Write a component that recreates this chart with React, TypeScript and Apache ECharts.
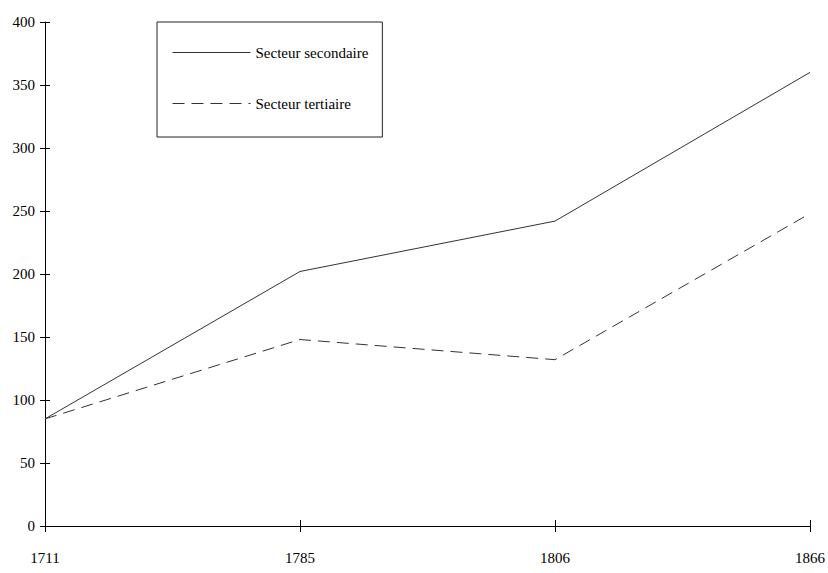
import React, { useEffect, useRef } from "react";
import * as echarts from "echarts";

const years = ["1711", "1785", "1806", "1866"];
const secondaire = [85, 202, 242, 360];
const tertiaire = [85, 148, 132, 248];
const seriesNames = ["Secteur secondaire", "Secteur tertiaire"];

const FONT = "Liberation Serif";

export default function App() {
  const ref = useRef<HTMLDivElement>(null);
  useEffect(() => {
    if (!ref.current) return;
    const chart = echarts.init(ref.current, null, { renderer: "svg" });
    const axisText = { color: "#000", fontFamily: FONT, fontSize: 15 };
    chart.setOption({
      animation: false,
      backgroundColor: "#fff",
      grid: { left: 45, right: 18, top: 22, bottom: 47 },
      legend: {
        left: 157,
        top: 22,
        orient: "vertical",
        borderColor: "#222",
        borderWidth: 1,
        borderRadius: 0,
        padding: [23, 14, 26, 15],
        itemWidth: 78,
        itemHeight: 14,
        itemGap: 36,
        itemStyle: { opacity: 0 },
        lineStyle: { width: 1 },
        textStyle: { color: "#000", fontFamily: FONT, fontSize: 15 },
        data: seriesNames,
      },
      xAxis: [
        {
          type: "category",
          data: years,
          boundaryGap: false,
          axisLine: { lineStyle: { color: "#000", width: 1 } },
          axisTick: { show: true, length: 6, alignWithLabel: true, lineStyle: { color: "#000" } },
          axisLabel: { ...axisText, margin: 24 },
          splitLine: { show: false },
        },
        {
          type: "category",
          data: years,
          boundaryGap: false,
          position: "bottom",
          axisLine: { show: false },
          axisTick: { show: true, inside: true, length: 6, lineStyle: { color: "#000" } },
          axisLabel: { show: false },
          splitLine: { show: false },
        },
      ],
      yAxis: [
        {
          type: "value",
          min: 0,
          max: 400,
          interval: 50,
          axisLine: { show: true, lineStyle: { color: "#000", width: 1 } },
          axisTick: { show: true, length: 5, lineStyle: { color: "#000" } },
          axisLabel: { ...axisText, margin: 10 },
          splitLine: { show: false },
        },
        {
          type: "value",
          min: 0,
          max: 400,
          interval: 50,
          position: "left",
          axisLine: { show: false },
          axisTick: { show: true, inside: true, length: 5, lineStyle: { color: "#000" } },
          axisLabel: { show: false },
          splitLine: { show: false },
        },
      ],
      series: [
        {
          name: seriesNames[0],
          type: "line",
          data: secondaire,
          symbol: "none",
          lineStyle: { color: "#333", width: 1, type: "solid" },
          itemStyle: { color: "#333" },
        },
        {
          name: seriesNames[1],
          type: "line",
          data: tertiaire,
          symbol: "none",
          lineStyle: { color: "#333", width: 1, type: [12, 7] },
          itemStyle: { color: "#333" },
        },
      ],
    });
    return () => chart.dispose();
  }, []);
  return (
    <div
      ref={ref}
      style={{ position: "fixed", left: 0, top: 0, width: 828, height: 573 }}
    />
  );
}
